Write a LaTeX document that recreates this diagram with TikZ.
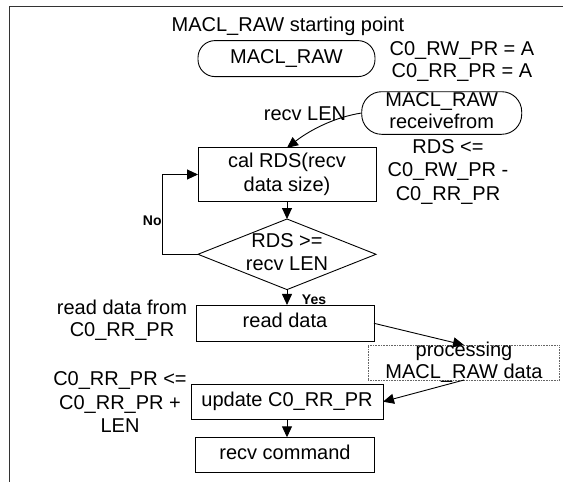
\documentclass[tikz,border=0pt]{standalone}
\usepackage{fontspec}
\setmainfont{Liberation Sans}
\usetikzlibrary{arrows.meta,shapes.geometric}
\newcommand\ls{\rule[-5.5pt]{0pt}{20pt}}
\begin{document}
\begin{tikzpicture}[x=1pt,y=-1pt,
  txt/.style={font=\fontsize{20}{23.35}\selectfont, inner sep=0pt, outer sep=0pt, align=center},
  box/.style={txt, draw, line width=0.9pt},
  rbox/.style={box, rounded corners=17pt},
  arr/.style={-{Triangle[length=11pt,width=10pt]}, line width=0.9pt},
  lbl/.style={font=\fontsize{14}{16}\selectfont\bfseries, inner sep=0pt, outer sep=0pt},
  frame/.style={line width=0.9pt, draw=black!80},
  dotbox/.style={box, draw=black!60, line width=0.8pt, dash pattern=on 0.8pt off 0.8pt}
]
\useasboundingbox (0,0) rectangle (563,482);
\draw[frame] (563,6) -- (9,6) -- (9,482);

\node[txt] (title) at (288,26.5) {\ls MACL\_RAW starting point};
\node[rbox, minimum width=177pt, minimum height=36pt] (start) at (286.5,58.6) {\ls MACL\_RAW};
\node[txt, font=\fontsize{20}{22}\selectfont] (init) at (462,62.2) {\ls C0\_RW\_PR = A\\\ls C0\_RR\_PR = A};
\node[rbox, rounded corners=20pt, minimum width=160pt, minimum height=42.6pt, font=\fontsize{20}{22.3}\selectfont] (recvfrom) at (441.7,113) {\ls MACL\_RAW\\\ls receivefrom};
\node[txt] (recvlen) at (305,115.5) {\ls recv LEN};
\node[box, minimum width=178pt, minimum height=53.3pt, font=\fontsize{20}{24}\selectfont] (cal) at (287,174.5) {\ls cal RDS(recv\\\ls data size)};
\node[txt] (rds) at (448,172.2) {\ls RDS <=\\\ls C0\_RW\_PR -\\\ls C0\_RR\_PR};
\node[diamond, draw, line width=0.9pt, txt, shape aspect=2.52, inner xsep=0pt, inner ysep=-4pt, minimum width=178pt, minimum height=70.6pt] (cond) at (287,254.3) {\ls RDS >=\\\ls recv LEN};
\node[lbl, anchor=base east] (no) at (161.6,225) {No};
\node[lbl, anchor=base] (yes) at (314,304) {Yes};
\node[box, minimum width=178pt, minimum height=36.7pt] (read) at (285,323.3) {\ls read data};
\node[txt, font=\fontsize{20}{22.7}\selectfont] (readfrom) at (122,320.85) {\ls read data from\\\ls C0\_RR\_PR};
\node[dotbox, minimum width=191.7pt, minimum height=35pt, inner ysep=-4pt, font=\fontsize{20}{22}\selectfont] (proc) at (464,362.5) {\ls processing\\\ls MACL\_RAW data};
\node[box, minimum width=192pt, minimum height=35.3pt] (update) at (287,401.7) {\ls update C0\_RR\_PR};
\node[txt] (newrr) at (120,404.8) {\ls C0\_RR\_PR <=\\\ls C0\_RR\_PR +\\\ls LEN};
\node[box, minimum width=178.6pt, minimum height=35.4pt] (cmd) at (285,455) {\ls recv command};

\draw[arr] (recvfrom.west) .. controls (335,117) and (310,130) .. (cal.north);
\draw[arr] (cal.south) -- (cond.north);
\draw[arr] (cond.west) -| ([xshift=-35.5pt]cal.west) -- (cal.west);
\draw[arr] (cond.south) -- (cond.south |- read.north);
\draw[arr] (read.east) -- (proc.north);
\draw[arr] (proc.south) -- (update.east);
\draw[arr] (update.south) -- (update.south |- cmd.north);
\end{tikzpicture}
\end{document}
